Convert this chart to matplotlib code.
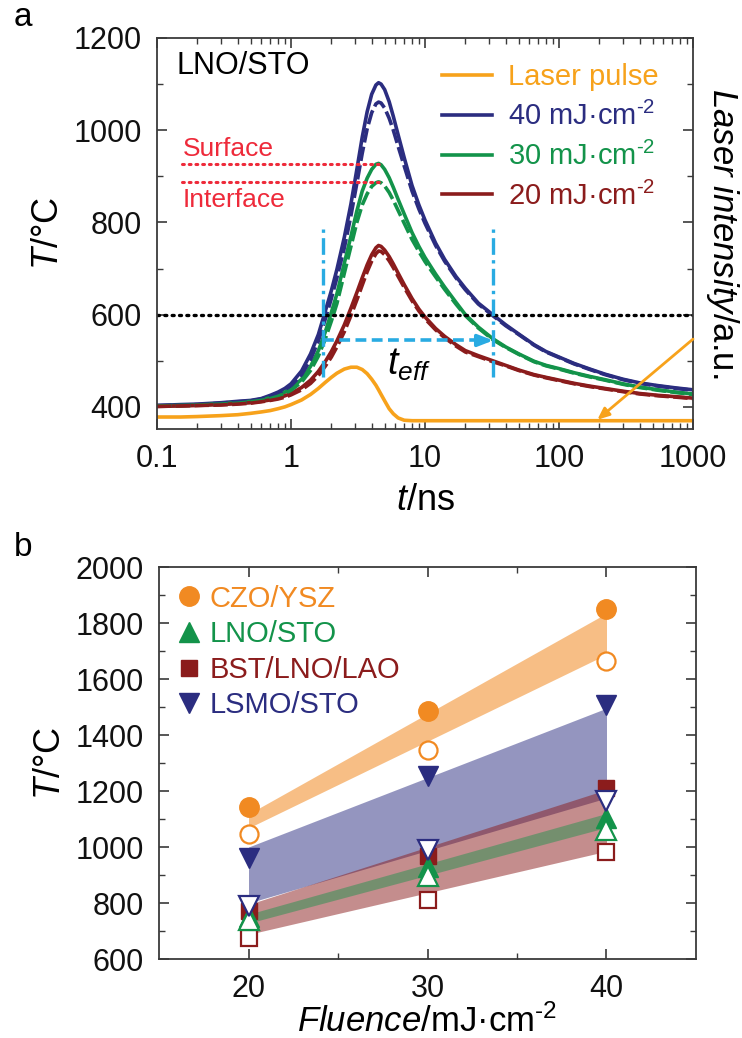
import numpy as np
import matplotlib
matplotlib.use("Agg")
import matplotlib.pyplot as plt
from matplotlib.ticker import FixedLocator

plt.rcParams['font.family'] = ['Liberation Sans', 'DejaVu Sans']
plt.rcParams['mathtext.fontset'] = 'custom'
plt.rcParams['mathtext.rm'] = 'Liberation Sans'
plt.rcParams['mathtext.it'] = 'Liberation Sans:italic'
plt.rcParams['mathtext.bf'] = 'Liberation Sans:bold'

# ---- panel a : simulated temperature vs time (LNO/STO) ----
t_ns = [0.1, 0.15, 0.2, 0.3, 0.4, 0.5, 0.6, 0.7, 0.8, 0.9, 1.0, 1.2, 1.4, 1.6, 1.8,
        2.0, 2.2, 2.5, 2.8, 3.1, 3.4, 3.7, 4.0, 4.3, 4.5, 4.7, 5.0, 5.4, 5.8, 6.3,
        7.0, 8.0, 9.0, 10, 12, 14, 17, 20, 25, 32, 40, 50, 65, 80, 100, 130, 170,
        220, 300, 400, 550, 750, 1000]

laser_pulse = [378, 378, 379, 381, 383, 386, 389, 392, 396, 400, 405, 415, 427, 440, 453,
               464, 473, 482, 486, 486, 481, 472, 460, 447, 437, 427, 413, 396, 385, 376,
               371, 370, 370, 370, 370, 370, 370, 370, 370, 370, 370, 370, 370, 370, 370,
               370, 370, 370, 370, 370, 370, 370, 370]

T40_surface = [403, 405, 406, 409, 412, 414, 418, 425, 432, 440, 450, 478, 515, 557, 607,
               652, 698, 768, 840, 915, 985, 1040, 1078, 1098, 1103, 1100, 1088, 1062, 1030, 990,
               940, 880, 838, 805, 755, 720, 683, 657, 625, 600, 578, 558, 535, 520, 508,
               494, 482, 471, 460, 452, 446, 441, 437]
T40_interface = [403, 404, 405, 408, 411, 413, 417, 423, 430, 437, 446, 470, 503, 543, 590,
                 635, 680, 745, 815, 885, 950, 1003, 1038, 1057, 1061, 1059, 1048, 1026, 1000, 965,
                 922, 868, 829, 798, 750, 716, 680, 654, 623, 598, 576, 557, 534, 519, 507,
                 493, 481, 470, 459, 451, 445, 440, 436]
T30_surface = [402, 403, 404, 407, 409, 412, 415, 420, 425, 432, 440, 460, 488, 522, 562,
               605, 645, 712, 770, 825, 868, 896, 915, 926, 928, 925, 915, 897, 876, 850,
               818, 778, 748, 724, 688, 660, 627, 600, 573, 548, 530, 515, 499, 490, 483,
               474, 466, 459, 450, 443, 437, 432, 428]
T30_interface = [402, 403, 404, 406, 408, 411, 414, 418, 423, 429, 436, 454, 479, 510, 547,
                 586, 624, 690, 748, 800, 838, 862, 878, 886, 888, 886, 879, 865, 848, 826,
                 798, 763, 737, 715, 682, 655, 623, 598, 571, 546, 529, 514, 498, 489, 482,
                 473, 465, 458, 449, 442, 436, 431, 427]
T20_surface = [401, 402, 403, 405, 407, 409, 412, 415, 419, 424, 429, 442, 458, 477, 498,
               520, 543, 578, 614, 648, 680, 708, 730, 745, 750, 748, 740, 726, 710, 690,
               665, 635, 612, 595, 570, 553, 535, 522, 511, 500, 490, 480, 470, 464, 458,
               451, 445, 440, 434, 429, 425, 422, 419]
T20_interface = [401, 402, 403, 404, 406, 408, 411, 414, 417, 421, 426, 437, 451, 468, 488,
                 508, 530, 563, 598, 632, 664, 693, 716, 732, 738, 737, 730, 717, 702, 683,
                 659, 630, 608, 591, 567, 550, 532, 519, 509, 498, 489, 479, 469, 463, 457,
                 450, 444, 439, 433, 428, 424, 421, 418]

surface_T = 926
interface_T = 888
threshold_T = 600
t_eff_start, t_eff_end = 1.73, 32.3

# ---- panel b : peak temperature vs fluence ----
fluence = [20, 30, 40]
czo_top = [1143, 1486, 1849]
czo_bot = [1047, 1347, 1664]
lno_top = [750, 928, 1103]
lno_bot = [738, 895, 1061]
bst_top = [772, 968, 1210]
bst_bot = [676, 812, 981]
lsmo_top = [960, 1254, 1506]
lsmo_bot = [791, 988, 1165]

band_x = [20, 40]
czo_band = ([1068, 1688], [1118, 1835])
lsmo_band = ([800, 1175], [1000, 1496])
bst_band = ([688, 985], [795, 1205])
lno_band = ([728, 1070], [760, 1120])

c_orange = '#f7a21b'
c_orange2 = '#f18a22'
c_navy = '#2b2d80'
c_green = '#13934a'
c_red = '#8b1c1c'
c_cyan = '#29abe2'
c_pink = '#ee2a3a'
c_axis = '#3a3a3a'

unit = r'mJ·cm$^{\text{-}2}$'

fig = plt.figure(figsize=(7.42, 10.38), dpi=100)
ax1 = fig.add_axes([0.2116, 0.5867, 0.7224, 0.3767])
ax2 = fig.add_axes([0.2143, 0.0761, 0.7237, 0.3776])

# panel a
ax1.plot(t_ns, laser_pulse, color=c_orange, lw=2.6, label='Laser pulse')
ax1.plot(t_ns, T40_surface, color=c_navy, lw=2.6, label='40 ' + unit)
ax1.plot(t_ns, T30_surface, color=c_green, lw=2.6, label='30 ' + unit)
ax1.plot(t_ns, T20_surface, color=c_red, lw=2.6, label='20 ' + unit)
ax1.plot(t_ns, T40_interface, color=c_navy, lw=2.6, ls=(0, (4, 1.2)))
ax1.plot(t_ns, T30_interface, color=c_green, lw=2.6, ls=(0, (4, 1.2)))
ax1.plot(t_ns, T20_interface, color=c_red, lw=2.6, ls=(0, (4, 1.2)))

ax1.axhline(threshold_T, color='black', lw=2.4, ls=(0, (0.6, 1.6)), dash_capstyle='round')
ax1.plot([0.153, 4.86], [surface_T, surface_T], color=c_pink, lw=2.2,
         ls=(0, (0.6, 1.6)), dash_capstyle='round')
ax1.plot([0.153, 4.86], [interface_T, interface_T], color=c_pink, lw=2.2,
         ls=(0, (0.6, 1.6)), dash_capstyle='round')
ax1.text(0.155, 960, 'Surface', color=c_pink, fontsize=19, va='center', ha='left')
ax1.text(0.155, 849, 'Interface', color=c_pink, fontsize=19, va='center', ha='left')

for tv in (t_eff_start, t_eff_end):
    ax1.plot([tv, tv], [465, 795], color=c_cyan, lw=2.4, ls=(0, (5, 1.6, 1, 1.6)))
ax1.plot([t_eff_start, 27], [544, 544], color=c_cyan, lw=2.6, ls=(0, (3, 1.5)))
ax1.annotate('', xy=(t_eff_end, 544), xytext=(24, 544),
             arrowprops=dict(arrowstyle='-|>,head_length=0.9,head_width=0.35',
                             color=c_cyan, lw=2.6, shrinkA=0, shrinkB=0))
ax1.text(7.6, 492, r'$t_{eff}$', fontsize=27, ha='center', va='center')

ax1.annotate('', xy=(193, 372), xytext=(1000, 547),
             arrowprops=dict(arrowstyle='-|>,head_length=0.7,head_width=0.3',
                             color=c_orange, lw=2, shrinkA=0, shrinkB=0),
             annotation_clip=False)

ax1.text(0.14, 1139, 'LNO/STO', fontsize=22, va='center', ha='left')

ax1.legend(loc='upper right', bbox_to_anchor=(0.935, 0.935), frameon=False,
           fontsize=21, handlelength=1.7, handletextpad=0.55, borderpad=0,
           labelspacing=0.36, borderaxespad=0, labelcolor='linecolor')

ax1.set_xscale('log')
ax1.set_xlim(0.1, 1000)
ax1.set_ylim(352, 1200)
ax1.set_yticks([400, 600, 800, 1000, 1200])
ax1.yaxis.set_minor_locator(FixedLocator([500, 700, 900, 1100]))
ax1.set_xticks([0.1, 1, 10, 100, 1000])
ax1.set_xticklabels(['0.1', '1', '10', '100', '1000'])
ax1.set_xlabel(r'$t$/ns', fontsize=26, labelpad=6)
ax1.set_ylabel(r'$T$/°C', fontsize=26, labelpad=5)
ax1.text(1.055, 0.5, r'$\mathit{Laser\ intensity}$/a.u.', transform=ax1.transAxes,
         rotation=270, fontsize=25, ha='center', va='center')

# panel b
ax2.fill_between(band_x, lsmo_band[0], lsmo_band[1], color=c_navy, alpha=0.5, lw=0)
ax2.fill_between(band_x, bst_band[0], bst_band[1], color=c_red, alpha=0.5, lw=0)
ax2.fill_between(band_x, lno_band[0], lno_band[1], color=c_green, alpha=0.45, lw=0)
ax2.fill_between(band_x, czo_band[0], czo_band[1], color=c_orange2, alpha=0.55, lw=0)

ms = 14
ax2.plot(fluence, czo_top, 'o', color=c_orange2, ms=ms, zorder=4)
ax2.plot(fluence, czo_bot, 'o', mfc='white', mec=c_orange2, mew=1.6, ms=ms - 1, zorder=4)
ax2.plot(fluence, bst_top, 's', color=c_red, ms=ms - 3, zorder=4)
ax2.plot(fluence, bst_bot, 's', mfc='white', mec=c_red, mew=1.6, ms=ms - 3, zorder=4)
ax2.plot(fluence, lno_top, '^', color=c_green, ms=ms, zorder=5)
ax2.plot(fluence, lno_bot, '^', mfc='white', mec=c_green, mew=1.6, ms=ms, zorder=5)
ax2.plot(fluence, lsmo_top, 'v', color=c_navy, ms=ms, zorder=6)
ax2.plot(fluence, lsmo_bot, 'v', mfc='white', mec=c_navy, mew=1.6, ms=ms, zorder=6)

h_czo = ax2.plot([], [], 'o', color=c_orange2, ms=ms)[0]
h_lno = ax2.plot([], [], '^', color=c_green, ms=ms)[0]
h_bst = ax2.plot([], [], 's', color=c_red, ms=ms - 3)[0]
h_lsmo = ax2.plot([], [], 'v', color=c_navy, ms=ms)[0]
ax2.legend([h_czo, h_lno, h_bst, h_lsmo], ['CZO/YSZ', 'LNO/STO', 'BST/LNO/LAO', 'LSMO/STO'],
           loc='upper left', bbox_to_anchor=(0.035, 0.955), frameon=False, fontsize=21,
           handlelength=0.8, handletextpad=0.3, labelspacing=0.26, borderpad=0,
           borderaxespad=0, labelcolor=[c_orange2, c_green, c_red, c_navy])

ax2.set_xlim(15, 45)
ax2.set_ylim(600, 2000)
ax2.set_xticks([20, 30, 40])
ax2.xaxis.set_minor_locator(FixedLocator([25, 35]))
ax2.set_yticks(np.arange(600, 2001, 200))
ax2.yaxis.set_minor_locator(FixedLocator(np.arange(700, 2000, 200)))
ax2.set_xlabel(r'$Fluence$/' + unit, fontsize=25, labelpad=0)
ax2.set_ylabel(r'$T$/°C', fontsize=26, labelpad=5)

for ax in (ax1, ax2):
    ax.tick_params(which='both', direction='in', top=True, right=True,
                   labelsize=22, pad=11, colors=c_axis, labelcolor='#111111')
    ax.tick_params(which='major', length=7, width=1.2)
    ax.tick_params(which='minor', length=4, width=1.0)
    for s in ax.spines.values():
        s.set_color(c_axis)
        s.set_linewidth(1.3)

fig.text(0.031, 0.983, 'a', fontsize=24, ha='center', va='center')
fig.text(0.031, 0.473, 'b', fontsize=24, ha='center', va='center')

fig.savefig('out.png', dpi=100)
